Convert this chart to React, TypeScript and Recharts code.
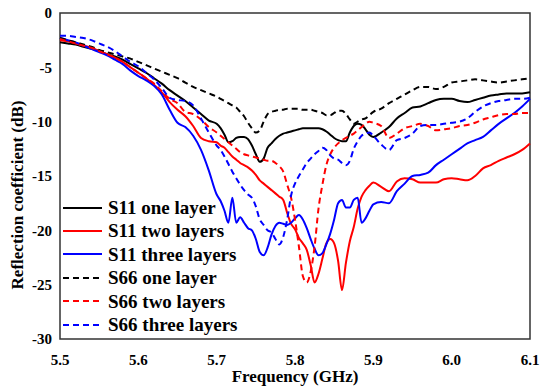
import { Line, LineChart, ReferenceArea, XAxis, YAxis } from 'recharts'

const font = "'Liberation Serif', 'Times New Roman', serif"

// frequency in GHz (finer steps around the resonances)
const freq = [
  5.5, 5.51, 5.52, 5.53, 5.54, 5.55, 5.56, 5.57, 5.58, 5.59,
  5.6, 5.61, 5.62, 5.63, 5.64, 5.65, 5.66, 5.67, 5.68, 5.69,
  5.7, 5.705, 5.71, 5.715, 5.72, 5.725, 5.73, 5.735, 5.74, 5.745,
  5.75, 5.755, 5.76, 5.765, 5.77, 5.775, 5.78, 5.785, 5.79, 5.795,
  5.8, 5.805, 5.81, 5.815, 5.82, 5.825, 5.83, 5.835, 5.84, 5.845,
  5.85, 5.855, 5.86, 5.865, 5.87, 5.875, 5.88, 5.885, 5.89, 5.895,
  5.9,
  5.91, 5.92, 5.93, 5.94, 5.95, 5.96, 5.97, 5.98, 5.99, 6.0,
  6.01, 6.02, 6.03, 6.04, 6.05, 6.06, 6.07, 6.08, 6.09, 6.1,
]

const s11One = [
  -2.7, -2.8, -2.9, -3.1, -3.3, -3.5, -3.8, -4.0, -4.3, -4.7,
  -5.1, -5.5, -6.0, -6.5, -7.1, -7.6, -8.1, -8.7, -9.3, -9.9,
  -10.2, -10.6, -11.2, -11.9, -11.8, -11.5, -11.4, -11.4, -11.6, -12.2,
  -13.0, -13.7, -13.4, -12.4, -12.0, -11.6, -11.3, -11.1, -11.0, -10.9,
  -10.8, -10.7, -10.6, -10.6, -10.6, -10.6, -10.6, -10.7, -10.9, -11.2,
  -11.5, -11.7, -11.8, -11.8, -11.0, -10.4, -10.2, -10.3, -10.7, -11.2,
  -11.4,
  -11.0, -10.5, -9.7, -9.2, -8.7, -8.6, -8.3, -8.0, -7.9, -7.9,
  -8.1, -8.2, -8.0, -7.8, -7.6, -7.5, -7.4, -7.4, -7.4, -7.3,
]

const s11Two = [
  -2.5, -2.6, -2.8, -3.0, -3.2, -3.5, -3.8, -4.1, -4.5, -5.0,
  -5.5, -6.0, -6.6, -7.3, -8.2, -8.9, -9.5, -10.4, -11.5, -11.8,
  -11.9, -12.2, -12.4, -12.8, -13.2, -13.5, -13.8, -14.0, -14.2, -14.5,
  -14.9, -15.4, -15.7, -16.0, -16.3, -16.6, -16.9, -17.2, -18.4, -19.4,
  -19.9, -20.7, -21.2, -21.8, -23.2, -24.8, -24.0, -22.6, -21.2, -20.8,
  -21.2, -22.8, -25.5, -23.0, -21.0, -19.7, -18.0, -16.9, -16.3, -15.9,
  -15.6,
  -16.0, -16.4, -15.5, -15.2, -15.3, -15.6, -15.6, -15.6, -15.3, -15.2,
  -15.3, -15.4, -15.0, -14.3, -14.0, -13.6, -13.3, -13.0, -12.6, -12.0,
]

const s11Three = [
  -2.3, -2.5, -2.7, -3.0, -3.3, -3.6, -3.9, -4.3, -4.7, -5.3,
  -5.8, -6.2, -6.7, -7.5, -8.9, -10.1, -10.5, -11.3, -12.6, -14.5,
  -16.7, -17.3, -18.2, -19.3, -17.0, -19.3, -18.8, -19.3, -19.8, -20.0,
  -20.8, -22.0, -22.3, -21.6, -20.4, -19.6, -19.3, -19.4, -19.5, -19.3,
  -18.9, -18.6, -19.0, -19.8, -20.8, -21.7, -22.3, -22.1, -21.3, -20.3,
  -19.0, -17.5, -17.2, -17.9, -17.9, -17.2, -17.0, -19.3, -18.9, -18.2,
  -17.6,
  -17.4, -17.5, -16.4, -15.7, -15.0, -14.9, -14.7, -14.0, -13.5, -13.0,
  -12.5, -12.0, -11.7, -11.4, -10.8, -10.2, -9.7, -9.2, -8.6, -7.9,
]

const s66One = [
  -2.3, -2.5, -2.7, -2.9, -3.1, -3.4, -3.6, -3.8, -4.0, -4.2,
  -4.5, -4.8, -5.1, -5.4, -5.7, -6.0, -6.4, -6.8, -7.1, -7.4,
  -7.7, -7.9, -8.1, -8.3, -8.5, -8.7, -9.1, -9.5, -10.1, -10.6,
  -11.0, -10.8, -10.0, -9.3, -9.1, -9.0, -8.9, -8.9, -8.8, -8.8,
  -8.8, -8.8, -8.9, -8.9, -8.9, -9.0, -9.1, -9.2, -9.4, -9.4,
  -9.2, -9.0, -9.0, -9.3, -9.8, -10.2, -10.0, -9.8, -9.7, -9.4,
  -9.1,
  -8.8, -8.3, -7.9, -7.5, -7.1, -6.8, -6.8, -7.0, -6.8, -6.4,
  -6.3, -6.2, -6.1, -6.2, -6.3, -6.4, -6.3, -6.2, -6.1, -6.0,
]

const s66Two = [
  -2.4, -2.6, -2.8, -3.0, -3.2, -3.5, -3.8, -4.1, -4.5, -5.0,
  -5.5, -6.0, -6.5, -7.2, -7.9, -8.3, -9.1, -9.3, -9.8, -10.5,
  -11.0, -11.3, -11.6, -11.9, -12.2, -12.5, -12.8, -13.0, -13.1, -13.2,
  -13.3, -13.4, -13.5, -13.6, -13.6, -13.8, -14.1, -14.6, -15.8, -17.0,
  -19.0, -21.5, -24.2, -24.8, -23.8, -21.5, -18.0, -15.8, -14.0, -13.0,
  -12.4, -12.0, -11.7, -11.5, -11.3, -11.1, -10.8, -10.5, -10.2, -10.0,
  -10.1,
  -10.4, -11.5, -11.1, -10.6, -10.4, -10.2, -10.4, -10.8, -10.7, -10.6,
  -10.4, -10.3, -10.1, -9.8, -9.6, -9.4, -9.3, -9.3, -9.2, -9.2,
]

const s66Three = [
  -2.1, -2.1, -2.2, -2.3, -2.5, -2.8, -3.1, -3.5, -4.0, -4.5,
  -4.9, -5.5, -6.1, -6.9, -7.8, -8.0, -8.1, -8.5, -9.7, -11.0,
  -12.2, -12.6, -13.2, -13.9, -14.6, -15.2, -15.8, -16.3, -16.7, -17.0,
  -17.8, -19.0, -19.5, -20.0, -20.2, -20.8, -21.3, -20.6, -19.0, -16.8,
  -15.7, -15.0, -14.4, -13.8, -13.4, -13.0, -12.7, -12.4, -12.6, -13.1,
  -13.4, -13.5, -13.8, -14.0, -13.6, -12.5, -11.8, -11.3, -11.1, -11.0,
  -11.3,
  -12.1, -12.6, -11.7, -11.5, -11.1, -10.4, -10.3, -10.3, -10.2, -10.1,
  -10.0, -9.7, -9.1, -8.6, -8.3, -8.1, -8.0, -7.9, -7.9, -7.8,
]

const xTicks = [5.5, 5.6, 5.7, 5.8, 5.9, 6.0, 6.1]
const yTicks = [-30, -25, -20, -15, -10, -5, 0]

const series = [
  { key: 's11One', name: 'S11 one layer', color: '#000000', dash: undefined },
  { key: 's11Two', name: 'S11 two layers', color: '#ff0000', dash: undefined },
  { key: 's11Three', name: 'S11 three layers', color: '#0000ff', dash: undefined },
  { key: 's66One', name: 'S66 one layer', color: '#000000', dash: '6 4' },
  { key: 's66Two', name: 'S66 two layers', color: '#ff0000', dash: '6 4' },
  { key: 's66Three', name: 'S66 three layers', color: '#0000ff', dash: '6 4' },
]

const rows = freq.map((f, i) => ({
  f,
  s11One: s11One[i],
  s11Two: s11Two[i],
  s11Three: s11Three[i],
  s66One: s66One[i],
  s66Two: s66Two[i],
  s66Three: s66Three[i],
}))

const tickStyle = { fill: '#000', fontSize: 15, fontWeight: 'bold', fontFamily: font }

const App = () => {
  return (
    <div style={{ position: 'absolute', left: 0, top: 0, width: 540, height: 390, background: '#fff' }}>
      <LineChart width={540} height={390} data={rows} margin={{ top: 13, right: 10, bottom: 0, left: 0 }}>
        <XAxis
          dataKey='f'
          type='number'
          domain={[5.5, 6.1]}
          ticks={xTicks}
          tickFormatter={(v: number) => v.toFixed(1)}
          axisLine={false}
          tickLine={false}
          tickMargin={9}
          height={51}
          tick={tickStyle}
          label={{
            value: 'Frequency (GHz)',
            position: 'insideBottom',
            offset: 8,
            fill: '#000',
            fontSize: 17,
            fontWeight: 'bold',
            fontFamily: font,
          }}
        />
        <YAxis
          type='number'
          domain={[-30, 0]}
          ticks={yTicks}
          width={60}
          axisLine={false}
          tickLine={false}
          tick={tickStyle}
          label={{
            content: () => (
              <text
                x={23}
                y={195}
                transform='rotate(-90 23 195)'
                textAnchor='middle'
                fill='#000'
                style={{ fontSize: 17, fontWeight: 'bold', fontFamily: font }}>
                Reflection coefficient (dB)
              </text>
            ),
          }}
        />
        <ReferenceArea x1={5.5} x2={6.1} y1={-30} y2={0} fill='none' stroke='#333' strokeWidth={1.5} />
        {series.map((s) => (
          <Line
            key={s.key}
            type='monotone'
            dataKey={s.key}
            name={s.name}
            stroke={s.color}
            strokeWidth={2}
            strokeDasharray={s.dash}
            dot={false}
            isAnimationActive={false}
          />
        ))}
      </LineChart>
      <div style={{ position: 'absolute', left: 63, top: 196, fontFamily: font, fontWeight: 'bold', fontSize: 19 }}>
        {series.map((s) => (
          <div key={s.key} style={{ display: 'flex', alignItems: 'center', height: 23.4 }}>
            <svg width={39} height={4} style={{ marginRight: 6 }}>
              <line x1={0} y1={2} x2={39} y2={2} stroke={s.color} strokeWidth={2} strokeDasharray={s.dash} />
            </svg>
            <span style={{ lineHeight: '23.4px', whiteSpace: 'nowrap' }}>{s.name}</span>
          </div>
        ))}
      </div>
    </div>
  )
}

export default App
